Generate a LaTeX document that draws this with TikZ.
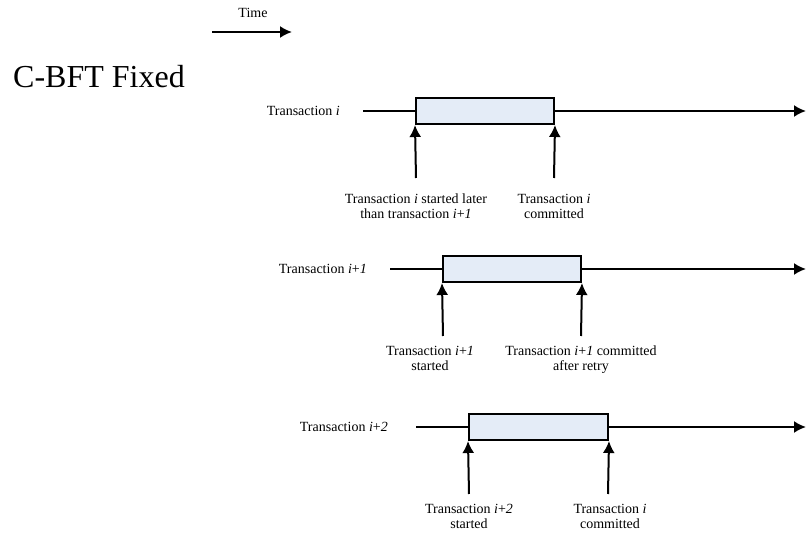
\documentclass[tikz,border=0pt]{standalone}
\usepackage{fontspec}
\setmainfont{Liberation Serif}
\usetikzlibrary{positioning}
\usetikzlibrary{arrows.meta}
\definecolor{txn-fill}{HTML}{E4ECF7}
\colorlet{txn}{black}
\tikzset{
  txnline/.style={draw=txn,line width=2pt},
  txnarrow/.style={txnline,-{Latex[length=12pt,width=12pt]}},
  txnbox/.style={txnline,fill=txn-fill,minimum height=26pt,inner sep=0pt},
  txnname/.style={font=\fontsize{14}{15}\selectfont,inner sep=0pt},
  txnnote/.style={font=\fontsize{14}{15}\selectfont,align=center,inner sep=0pt},
}
% one transaction: name, y, label end, line start, box left, box right, label
\newcommand{\tikztxn}[7]{%
\pgfmathsetmacro{\boxwidth}{#6-#5}
\pgfmathsetmacro{\boxmid}{(#5+#6)/2}
\node[txnname,anchor=east] (#1-name) at (#3,#2) {#7};
\coordinate (#1-start) at (#4,#2);
\coordinate (#1-end) at (806,#2);
\node[txnbox,minimum width=\boxwidth pt] (#1-box) at (\boxmid,#2) {};
% horizontal line
\draw[txnline] (#1-start) -- (#1-box.west);
\draw[txnarrow] (#1-box.east) -- (#1-end);
% start and commit marks
\coordinate (#1-from) at (#5,#2+67);
\coordinate (#1-to) at (#6,#2+67);
\draw[txnarrow] (#1-from) -- (#1-box.south west);
\draw[txnarrow] (#1-to) -- (#1-box.south east);
}

\begin{document}
\begin{tikzpicture}[x=1pt,y=-1pt]
\useasboundingbox (0,0) rectangle (807,537);
% time direction
\node[txnname] (time) at (253,13) {Time};
\coordinate (time-start) at (212,32);
\coordinate (time-end) at (292,32);
\draw[txnarrow] (time-start) -- (time-end);
\node[font=\fontsize{32}{36}\selectfont,inner sep=0pt,anchor=base west] (title) at (13,88) {C-BFT Fixed};
\tikztxn{row1}{111}{340}{363}{416}{554}{Transaction \textit{i}}
\tikztxn{row2}{269}{367}{390}{443}{581}{Transaction \textit{i}+\textit{1}}
\tikztxn{row3}{427}{388}{416}{469}{608}{Transaction \textit{i}+\textit{2}}
\node[txnnote,below=16pt of row1-from] (row1-started) {Transaction \textit{i} started later\\than transaction \textit{i}+\textit{1}};
\node[txnnote,below=16pt of row1-to] (row1-committed) {Transaction \textit{i}\\committed};
\node[txnnote,below=10pt of row2-from,xshift=-13pt] (row2-started) {Transaction \textit{i}+\textit{1}\\started};
\node[txnnote,below=10pt of row2-to] (row2-committed) {Transaction \textit{i}+\textit{1} committed\\after retry};
\node[txnnote,below=10pt of row3-from] (row3-started) {Transaction \textit{i}+\textit{2}\\started};
\node[txnnote,below=10pt of row3-to,xshift=2pt] (row3-committed) {Transaction \textit{i}\\committed};
\end{tikzpicture}
\end{document}
